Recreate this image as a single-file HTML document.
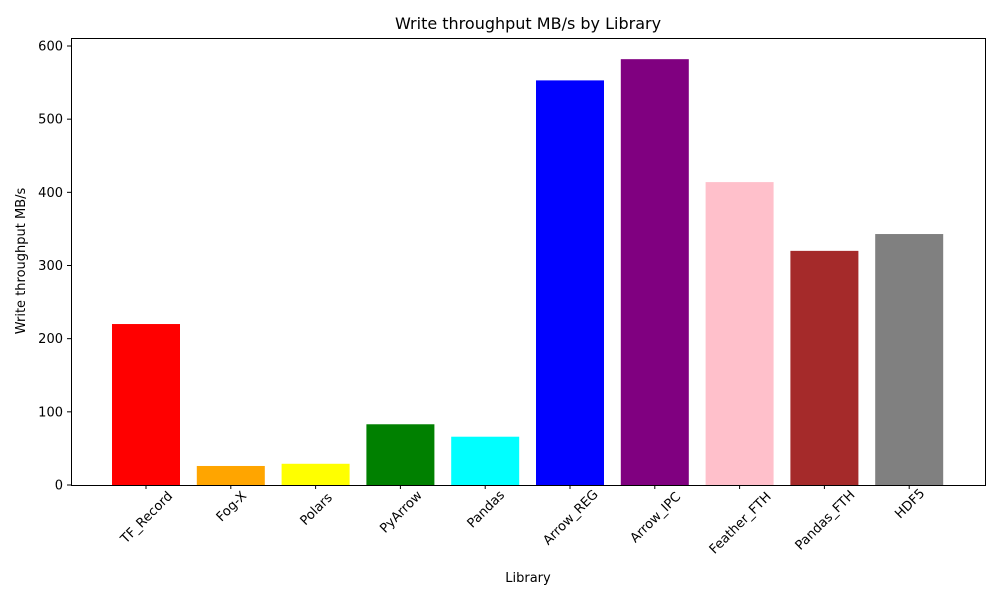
<!DOCTYPE html>
<html><head><meta charset="utf-8">
<style>
body{margin:0;background:#fff;font-family:"Liberation Sans","DejaVu Sans",sans-serif;}
svg text{font-family:"DejaVu Sans","Liberation Sans",sans-serif;fill:#000;}
</style></head>
<body>
<svg id="chart" width="1000" height="600" xmlns="http://www.w3.org/2000/svg">
<rect width="1000" height="600" fill="#fff"/>
<text x="528" y="29" font-size="16" text-anchor="middle">Write throughput MB/s by Library</text>
<text x="0" y="0" font-size="13" text-anchor="middle" transform="translate(25,261) rotate(-90)">Write throughput MB/s</text>
<text x="528" y="582" font-size="13" text-anchor="middle">Library</text>
<g id="bars"></g>
<g id="yticks"></g>
<g id="xticks"></g>
<rect x="71.5" y="38.5" width="914" height="447" fill="none" stroke="#000" stroke-width="1"/>
</svg>
<script>
const categories=["TF_Record","Fog-X","Polars","PyArrow","Pandas","Arrow_REG","Arrow_IPC","Feather_FTH","Pandas_FTH","HDF5"];
const values=[220,26,29,83,66,553,582,414,320,343];
const colors=["red","orange","yellow","green","cyan","blue","purple","pink","brown","gray"];
const yTicks=[0,100,200,300,400,500,600];
const NS="http://www.w3.org/2000/svg";
const y0=485, pxPerUnit=(485-46)/600;
function yScale(v){return y0-v*pxPerUnit;}
function xScale(i){return 146+84.8*i;}
const bw=68;
const bars=document.getElementById('bars');
values.forEach((v,i)=>{
  const r=document.createElementNS(NS,'rect');
  
  
  r.setAttribute('x',xScale(i)-bw/2);r.setAttribute('y',yScale(v));
  r.setAttribute('width',bw);r.setAttribute('height',y0-yScale(v));
  r.setAttribute('fill',colors[i]);
  bars.appendChild(r);
});
const yt=document.getElementById('yticks');
yTicks.forEach(t=>{
  const y=yScale(t);
  const l=document.createElementNS(NS,'line');
  
  
  l.setAttribute('x1',67);l.setAttribute('x2',71);l.setAttribute('y1',y);l.setAttribute('y2',y);l.setAttribute('stroke','#000');
  yt.appendChild(l);
  const tx=document.createElementNS(NS,'text');
  
  
  tx.setAttribute('x',63);tx.setAttribute('y',y+4.5);tx.setAttribute('font-size','13');tx.setAttribute('text-anchor','end');
  tx.textContent=t;yt.appendChild(tx);
});
const xt=document.getElementById('xticks');
categories.forEach((c,i)=>{
  const x=xScale(i);
  const l=document.createElementNS(NS,'line');
  
  
  l.setAttribute('x1',x);l.setAttribute('x2',x);l.setAttribute('y1',485);l.setAttribute('y2',489);l.setAttribute('stroke','#000');
  xt.appendChild(l);
  const tx=document.createElementNS(NS,'text');
  
  
  const w=c.length*7.8;
  tx.setAttribute('font-size','13');tx.setAttribute('text-anchor','middle');
  const off=w/2*0.7071;
  tx.setAttribute('transform','translate('+(x)+','+(492+off)+') rotate(-45)');
  tx.setAttribute('x',0);tx.setAttribute('y',5);
  tx.textContent=c;xt.appendChild(tx);
});
</script>
</body></html>
